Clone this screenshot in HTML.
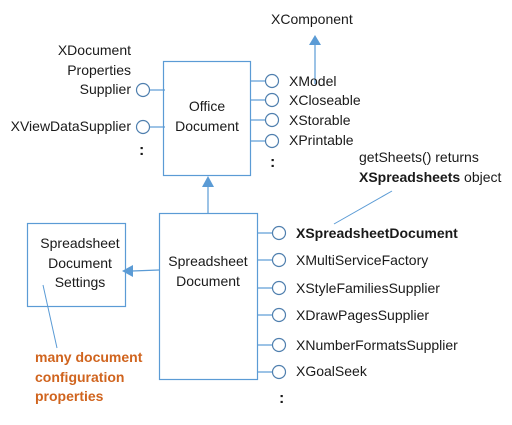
<!DOCTYPE html>
<html><head><meta charset="utf-8"><style>
html,body{margin:0;padding:0;background:#fff;}
svg{display:block;}
text{font-family:"Liberation Sans",sans-serif;font-size:14px;fill:#1a1a1a;}
</style></head><body>
<svg width="512" height="425" viewBox="0 0 512 425" xmlns="http://www.w3.org/2000/svg">
<g fill="none" stroke="#5b9bd5" stroke-width="1.2">
<rect x="163.5" y="61.5" width="87" height="114"/>
<rect x="159.5" y="213.5" width="98" height="166"/>
<rect x="27.5" y="223.5" width="98" height="83"/>
<line x1="251" y1="81" x2="266" y2="81"/>
<line x1="251" y1="100" x2="266" y2="100"/>
<line x1="251" y1="120" x2="266" y2="120"/>
<line x1="251" y1="141" x2="265" y2="141"/>
<line x1="149" y1="90" x2="165" y2="90"/>
<line x1="149" y1="127" x2="165" y2="127"/>
<line x1="315" y1="84" x2="315" y2="44"/>
<line x1="208" y1="213" x2="208" y2="186"/>
<line x1="258" y1="233" x2="273" y2="233"/>
<line x1="257" y1="260" x2="273" y2="260"/>
<line x1="257" y1="288" x2="273" y2="288"/>
<line x1="258" y1="315" x2="273" y2="315"/>
<line x1="258" y1="345" x2="273" y2="345"/>
<line x1="258" y1="372" x2="273" y2="372"/>
<line x1="159" y1="270" x2="132" y2="271"/>
<line x1="392" y1="191" x2="334" y2="224" stroke-width="1"/>
<line x1="43" y1="285" x2="57" y2="348" stroke-width="1"/>
</g>
<g fill="#5b9bd5">
<polygon points="315,35 309,45 321,45"/>
<polygon points="208,176 202,187 214,187"/>
<polygon points="122,271 133,265 133,277"/>
</g>
<g fill="#fff" stroke="#4f7fae" stroke-width="1.2">
<circle cx="272" cy="81" r="6.5"/>
<circle cx="272" cy="100" r="6.5"/>
<circle cx="272" cy="120" r="6.5"/>
<circle cx="272" cy="141" r="6.5"/>
<circle cx="143" cy="90" r="6.5"/>
<circle cx="143" cy="127" r="6.5"/>
<circle cx="279" cy="233" r="6.5"/>
<circle cx="279" cy="260" r="6.5"/>
<circle cx="279" cy="288" r="6.5"/>
<circle cx="279" cy="315" r="6.5"/>
<circle cx="279" cy="345" r="6.5"/>
<circle cx="279" cy="372" r="6.5"/>
</g>
<text x="271" y="24">XComponent</text>
<text x="131" y="55" text-anchor="end">XDocument</text>
<text x="131" y="75" text-anchor="end">Properties</text>
<text x="131" y="94" text-anchor="end">Supplier</text>
<text x="131" y="131" text-anchor="end">XViewDataSupplier</text>
<text x="139" y="155" font-weight="bold" style="font-size:16px">:</text>
<text x="270" y="167" font-weight="bold" style="font-size:16px">:</text>
<text x="207" y="111" text-anchor="middle">Office</text>
<text x="207" y="131" text-anchor="middle">Document</text>
<text x="289" y="86">XModel</text>
<text x="289" y="105">XCloseable</text>
<text x="289" y="125">XStorable</text>
<text x="289" y="145">XPrintable</text>
<text x="359" y="162">getSheets() returns</text>
<text x="359" y="182"><tspan font-weight="bold">XSpreadsheets</tspan> object</text>
<text x="208" y="266" text-anchor="middle">Spreadsheet</text>
<text x="208" y="286" text-anchor="middle">Document</text>
<text x="80" y="248" text-anchor="middle">Spreadsheet</text>
<text x="80" y="268" text-anchor="middle">Document</text>
<text x="80" y="287" text-anchor="middle">Settings</text>
<text x="296" y="238" font-weight="bold">XSpreadsheetDocument</text>
<text x="296" y="265">XMultiServiceFactory</text>
<text x="296" y="293">XStyleFamiliesSupplier</text>
<text x="296" y="320">XDrawPagesSupplier</text>
<text x="296" y="350">XNumberFormatsSupplier</text>
<text x="296" y="376">XGoalSeek</text>
<text x="279" y="403" font-weight="bold" style="font-size:16px">:</text>
<text x="35" y="362" font-weight="bold" style="fill:#d0641e">many document</text>
<text x="35" y="382" font-weight="bold" style="fill:#d0641e">configuration</text>
<text x="35" y="401" font-weight="bold" style="fill:#d0641e">properties</text>
</svg>
</body></html>
